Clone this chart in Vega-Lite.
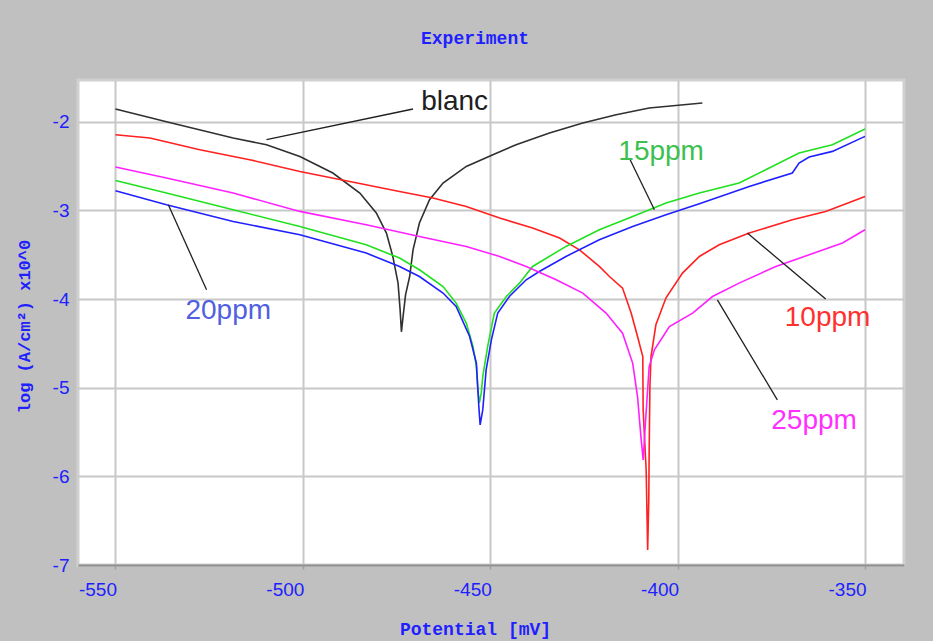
{
  "$schema": "https://vega.github.io/schema/vega-lite/v6.json",
  "width": 826,
  "height": 485,
  "autosize": {"type": "none"},
  "padding": {"left": 78, "top": 80, "right": 29, "bottom": 76},
  "background": "#c0c0c0",
  "title": {"text": "Experiment", "font": "Liberation Mono", "fontWeight": "bold", "fontSize": 18, "color": "#2020ff", "anchor": "middle", "dx": -16, "offset": 32},
  "config": {
    "view": {"fill": "white", "stroke": "#d0d0d0", "strokeWidth": 3}
  },
  "datasets": {
    "curves": [
      {"s":"blanc","i":0,"v":-550,"y":-1.857},{"s":"blanc","i":1,"v":-536.4,"y":-2.0},{"s":"blanc","i":2,"v":-518.6,"y":-2.184},{"s":"blanc","i":3,"v":-509.7,"y":-2.26},{"s":"blanc","i":4,"v":-500.8,"y":-2.392},{"s":"blanc","i":5,"v":-492.0,"y":-2.579},{"s":"blanc","i":6,"v":-484.8,"y":-2.805},{"s":"blanc","i":7,"v":-480.4,"y":-3.03},{"s":"blanc","i":8,"v":-477.7,"y":-3.256},{"s":"blanc","i":9,"v":-476.0,"y":-3.52},{"s":"blanc","i":10,"v":-474.6,"y":-3.821},{"s":"blanc","i":11,"v":-474.05,"y":-4.122},{"s":"blanc","i":12,"v":-473.7,"y":-4.37},{"s":"blanc","i":13,"v":-473.3,"y":-4.212},{"s":"blanc","i":14,"v":-472.6,"y":-3.953},{"s":"blanc","i":15,"v":-471.5,"y":-3.746},{"s":"blanc","i":16,"v":-470.6,"y":-3.445},{"s":"blanc","i":17,"v":-468.9,"y":-3.143},{"s":"blanc","i":18,"v":-466.2,"y":-2.88},{"s":"blanc","i":19,"v":-462.6,"y":-2.692},{"s":"blanc","i":20,"v":-456.4,"y":-2.505},{"s":"blanc","i":21,"v":-449.3,"y":-2.372},{"s":"blanc","i":22,"v":-443.1,"y":-2.26},{"s":"blanc","i":23,"v":-434.2,"y":-2.128},{"s":"blanc","i":24,"v":-425.3,"y":-2.015},{"s":"blanc","i":25,"v":-416.4,"y":-1.921},{"s":"blanc","i":26,"v":-407.6,"y":-1.845},{"s":"blanc","i":27,"v":-393.4,"y":-1.789},
      {"s":"10ppm","i":0,"v":-550,"y":-2.147},{"s":"10ppm","i":1,"v":-540.8,"y":-2.184},{"s":"10ppm","i":2,"v":-527.5,"y":-2.316},{"s":"10ppm","i":3,"v":-514.2,"y":-2.429},{"s":"10ppm","i":4,"v":-500.8,"y":-2.561},{"s":"10ppm","i":5,"v":-487.5,"y":-2.674},{"s":"10ppm","i":6,"v":-474.2,"y":-2.787},{"s":"10ppm","i":7,"v":-465.3,"y":-2.861},{"s":"10ppm","i":8,"v":-456.4,"y":-2.956},{"s":"10ppm","i":9,"v":-447.5,"y":-3.087},{"s":"10ppm","i":10,"v":-438.7,"y":-3.2},{"s":"10ppm","i":11,"v":-431.5,"y":-3.313},{"s":"10ppm","i":12,"v":-426.2,"y":-3.445},{"s":"10ppm","i":13,"v":-420.9,"y":-3.633},{"s":"10ppm","i":14,"v":-418.2,"y":-3.746},{"s":"10ppm","i":15,"v":-414.7,"y":-3.877},{"s":"10ppm","i":16,"v":-412.4,"y":-4.159},{"s":"10ppm","i":17,"v":-410.7,"y":-4.423},{"s":"10ppm","i":18,"v":-409.3,"y":-4.649},{"s":"10ppm","i":19,"v":-409.2,"y":-5.251},{"s":"10ppm","i":20,"v":-408.4,"y":-5.928},{"s":"10ppm","i":21,"v":-408.0,"y":-6.831},{"s":"10ppm","i":22,"v":-407.7,"y":-6.266},{"s":"10ppm","i":23,"v":-407.6,"y":-5.736},{"s":"10ppm","i":24,"v":-407.4,"y":-4.988},{"s":"10ppm","i":25,"v":-407.1,"y":-4.649},{"s":"10ppm","i":26,"v":-405.8,"y":-4.291},{"s":"10ppm","i":27,"v":-403.1,"y":-3.986},{"s":"10ppm","i":28,"v":-398.7,"y":-3.708},{"s":"10ppm","i":29,"v":-394.2,"y":-3.52},{"s":"10ppm","i":30,"v":-388.9,"y":-3.388},{"s":"10ppm","i":31,"v":-380.9,"y":-3.256},{"s":"10ppm","i":32,"v":-369.4,"y":-3.106},{"s":"10ppm","i":33,"v":-360.5,"y":-3.012},{"s":"10ppm","i":34,"v":-350,"y":-2.843},
      {"s":"15ppm","i":0,"v":-550,"y":-2.663},{"s":"15ppm","i":1,"v":-536.4,"y":-2.805},{"s":"15ppm","i":2,"v":-518.6,"y":-2.993},{"s":"15ppm","i":3,"v":-500.8,"y":-3.182},{"s":"15ppm","i":4,"v":-483.1,"y":-3.388},{"s":"15ppm","i":5,"v":-474.2,"y":-3.538},{"s":"15ppm","i":6,"v":-468.9,"y":-3.67},{"s":"15ppm","i":7,"v":-462.6,"y":-3.859},{"s":"15ppm","i":8,"v":-459.1,"y":-4.046},{"s":"15ppm","i":9,"v":-456.4,"y":-4.272},{"s":"15ppm","i":10,"v":-454.6,"y":-4.536},{"s":"15ppm","i":11,"v":-453.7,"y":-4.762},{"s":"15ppm","i":12,"v":-453.3,"y":-5.025},{"s":"15ppm","i":13,"v":-452.9,"y":-5.172},{"s":"15ppm","i":14,"v":-452.4,"y":-5.059},{"s":"15ppm","i":15,"v":-452.0,"y":-4.875},{"s":"15ppm","i":16,"v":-450.7,"y":-4.536},{"s":"15ppm","i":17,"v":-448.9,"y":-4.159},{"s":"15ppm","i":18,"v":-445.7,"y":-3.972},{"s":"15ppm","i":19,"v":-442.2,"y":-3.821},{"s":"15ppm","i":20,"v":-438.7,"y":-3.633},{"s":"15ppm","i":21,"v":-429.8,"y":-3.407},{"s":"15ppm","i":22,"v":-420.9,"y":-3.219},{"s":"15ppm","i":23,"v":-412.0,"y":-3.069},{"s":"15ppm","i":24,"v":-403.1,"y":-2.918},{"s":"15ppm","i":25,"v":-394.2,"y":-2.805},{"s":"15ppm","i":26,"v":-383.6,"y":-2.692},{"s":"15ppm","i":27,"v":-376.5,"y":-2.542},{"s":"15ppm","i":28,"v":-367.6,"y":-2.353},{"s":"15ppm","i":29,"v":-358.7,"y":-2.26},{"s":"15ppm","i":30,"v":-350,"y":-2.082},
      {"s":"20ppm","i":0,"v":-550,"y":-2.779},{"s":"20ppm","i":1,"v":-536.4,"y":-2.937},{"s":"20ppm","i":2,"v":-518.6,"y":-3.125},{"s":"20ppm","i":3,"v":-500.8,"y":-3.275},{"s":"20ppm","i":4,"v":-483.1,"y":-3.482},{"s":"20ppm","i":5,"v":-474.2,"y":-3.633},{"s":"20ppm","i":6,"v":-468.9,"y":-3.746},{"s":"20ppm","i":7,"v":-462.6,"y":-3.933},{"s":"20ppm","i":8,"v":-459.1,"y":-4.085},{"s":"20ppm","i":9,"v":-455.5,"y":-4.423},{"s":"20ppm","i":10,"v":-453.7,"y":-4.723},{"s":"20ppm","i":11,"v":-453.05,"y":-5.213},{"s":"20ppm","i":12,"v":-452.7,"y":-5.42},{"s":"20ppm","i":13,"v":-452.0,"y":-5.251},{"s":"20ppm","i":14,"v":-451.1,"y":-4.799},{"s":"20ppm","i":15,"v":-449.7,"y":-4.46},{"s":"20ppm","i":16,"v":-448.0,"y":-4.159},{"s":"20ppm","i":17,"v":-444.9,"y":-3.972},{"s":"20ppm","i":18,"v":-440.4,"y":-3.783},{"s":"20ppm","i":19,"v":-436.9,"y":-3.69},{"s":"20ppm","i":20,"v":-429.8,"y":-3.52},{"s":"20ppm","i":21,"v":-420.9,"y":-3.332},{"s":"20ppm","i":22,"v":-412.0,"y":-3.182},{"s":"20ppm","i":23,"v":-403.1,"y":-3.05},{"s":"20ppm","i":24,"v":-394.2,"y":-2.925},{"s":"20ppm","i":25,"v":-380.9,"y":-2.73},{"s":"20ppm","i":26,"v":-369.4,"y":-2.579},{"s":"20ppm","i":27,"v":-367.6,"y":-2.466},{"s":"20ppm","i":28,"v":-364.9,"y":-2.398},{"s":"20ppm","i":29,"v":-358.7,"y":-2.335},{"s":"20ppm","i":30,"v":-350,"y":-2.166},
      {"s":"25ppm","i":0,"v":-550,"y":-2.511},{"s":"25ppm","i":1,"v":-536.4,"y":-2.635},{"s":"25ppm","i":2,"v":-518.6,"y":-2.805},{"s":"25ppm","i":3,"v":-500.8,"y":-3.012},{"s":"25ppm","i":4,"v":-483.1,"y":-3.163},{"s":"25ppm","i":5,"v":-468.9,"y":-3.295},{"s":"25ppm","i":6,"v":-456.4,"y":-3.407},{"s":"25ppm","i":7,"v":-447.5,"y":-3.52},{"s":"25ppm","i":8,"v":-440.4,"y":-3.633},{"s":"25ppm","i":9,"v":-432.4,"y":-3.783},{"s":"25ppm","i":10,"v":-425.3,"y":-3.933},{"s":"25ppm","i":11,"v":-419.1,"y":-4.159},{"s":"25ppm","i":12,"v":-414.7,"y":-4.385},{"s":"25ppm","i":13,"v":-412.0,"y":-4.723},{"s":"25ppm","i":14,"v":-410.7,"y":-5.1},{"s":"25ppm","i":15,"v":-409.8,"y":-5.552},{"s":"25ppm","i":16,"v":-409.2,"y":-5.815},{"s":"25ppm","i":17,"v":-408.6,"y":-5.401},{"s":"25ppm","i":18,"v":-407.6,"y":-4.762},{"s":"25ppm","i":19,"v":-406.2,"y":-4.573},{"s":"25ppm","i":20,"v":-402.2,"y":-4.31},{"s":"25ppm","i":21,"v":-396.0,"y":-4.159},{"s":"25ppm","i":22,"v":-390.7,"y":-3.972},{"s":"25ppm","i":23,"v":-383.6,"y":-3.821},{"s":"25ppm","i":24,"v":-373.8,"y":-3.633},{"s":"25ppm","i":25,"v":-364.9,"y":-3.501},{"s":"25ppm","i":26,"v":-356.0,"y":-3.369},{"s":"25ppm","i":27,"v":-350,"y":-3.219}
    ],
    "labels": [
      {"t":"blanc","v":-459.5,"y":-1.865},
      {"t":"15ppm","v":-404.4,"y":-2.429},
      {"t":"20ppm","v":-519.9,"y":-4.223},
      {"t":"10ppm","v":-360.0,"y":-4.31},
      {"t":"25ppm","v":-363.6,"y":-5.465}
    ],
    "leaders": [
      {"t":"blanc","v":-470.6,"y":-1.857,"v2":-509.7,"y2":-2.203},
      {"t":"15ppm","v":-412.9,"y":-2.41,"v2":-406.2,"y2":-2.993},
      {"t":"20ppm","v":-535.9,"y":-2.937,"v2":-525.7,"y2":-3.896},
      {"t":"10ppm","v":-381.4,"y":-3.256,"v2":-360.5,"y2":-4.001},
      {"t":"25ppm","v":-389.4,"y":-4.009,"v2":-373.4,"y2":-5.138}
    ]
  },
  "layer": [
    {
      "data": {"name": "curves"},
      "mark": {"type": "line", "strokeWidth": 1.6, "interpolate": "linear"},
      "encoding": {
        "x": {"field": "v", "type": "quantitative", "title": "Potential [mV]",
          "scale": {"domain": [-560, -339.6], "nice": false, "zero": false},
          "axis": {"values": [-550, -500, -450, -400, -350], "labelExpr": "'' + datum.value", "grid": true, "gridColor": "#c8c8c8", "gridWidth": 2,
            "domain": true, "domainColor": "#909090", "domainWidth": 2, "ticks": true, "tickColor": "#a0a0a0", "tickSize": 4, "tickWidth": 1.5,
            "labelColor": "#2020ff", "labelFont": "Liberation Sans", "labelFontSize": 19, "labelPadding": 11, "labelOffset": -18,
            "titleFont": "Liberation Mono", "titleFontWeight": "bold", "titleFontSize": 18, "titleColor": "#2020ff",
            "titleX": 397, "titleY": 64, "titleBaseline": "middle", "titleAlign": "center"}},
        "y": {"field": "y", "type": "quantitative", "title": "log (A/cm²) x10^0",
          "scale": {"domain": [-7, -1.53], "nice": false, "zero": false},
          "axis": {"values": [-7, -6, -5, -4, -3, -2], "labelExpr": "'' + datum.value", "grid": true, "gridColor": "#c8c8c8", "gridWidth": 2,
            "domain": false, "ticks": false,
            "labelColor": "#2020ff", "labelFont": "Liberation Sans", "labelFontSize": 19, "labelPadding": 9,
            "titleFont": "Liberation Mono", "titleFontWeight": "bold", "titleFontSize": 17, "titleColor": "#2020ff",
            "titleX": -54, "titleY": 246, "titleBaseline": "middle", "titleAlign": "center", "titleAngle": -90}},
        "color": {"field": "s", "type": "nominal", "legend": null,
          "scale": {"domain": ["blanc", "10ppm", "15ppm", "20ppm", "25ppm"], "range": ["#303030", "#ff2020", "#20e020", "#2020ff", "#ff20ff"]}},
        "detail": {"field": "s"},
        "order": {"field": "i", "type": "quantitative"}
      }
    },
    {
      "data": {"name": "leaders"},
      "mark": {"type": "rule", "color": "#202020", "strokeWidth": 1.3},
      "encoding": {
        "x": {"field": "v", "type": "quantitative", "title": "Potential [mV]", "scale": {"domain": [-560, -339.6], "nice": false, "zero": false}},
        "y": {"field": "y", "type": "quantitative", "title": "log (A/cm²) x10^0", "scale": {"domain": [-7, -1.53], "nice": false, "zero": false}},
        "x2": {"field": "v2"},
        "y2": {"field": "y2"}
      }
    },
    {
      "data": {"name": "labels"},
      "mark": {"type": "text", "font": "Liberation Sans", "fontSize": 28, "align": "center", "baseline": "alphabetic"},
      "encoding": {
        "x": {"field": "v", "type": "quantitative", "title": "Potential [mV]", "scale": {"domain": [-560, -339.6], "nice": false, "zero": false}},
        "y": {"field": "y", "type": "quantitative", "title": "log (A/cm²) x10^0", "scale": {"domain": [-7, -1.53], "nice": false, "zero": false}},
        "text": {"field": "t"},
        "color": {"field": "t", "type": "nominal", "legend": null,
          "scale": {"domain": ["blanc", "10ppm", "15ppm", "20ppm", "25ppm"], "range": ["#202020", "#ff3030", "#3cc050", "#5060e0", "#ff30ff"]}}
      }
    }
  ],
  "resolve": {"scale": {"color": "independent"}, "legend": {"color": "independent"}}
}
